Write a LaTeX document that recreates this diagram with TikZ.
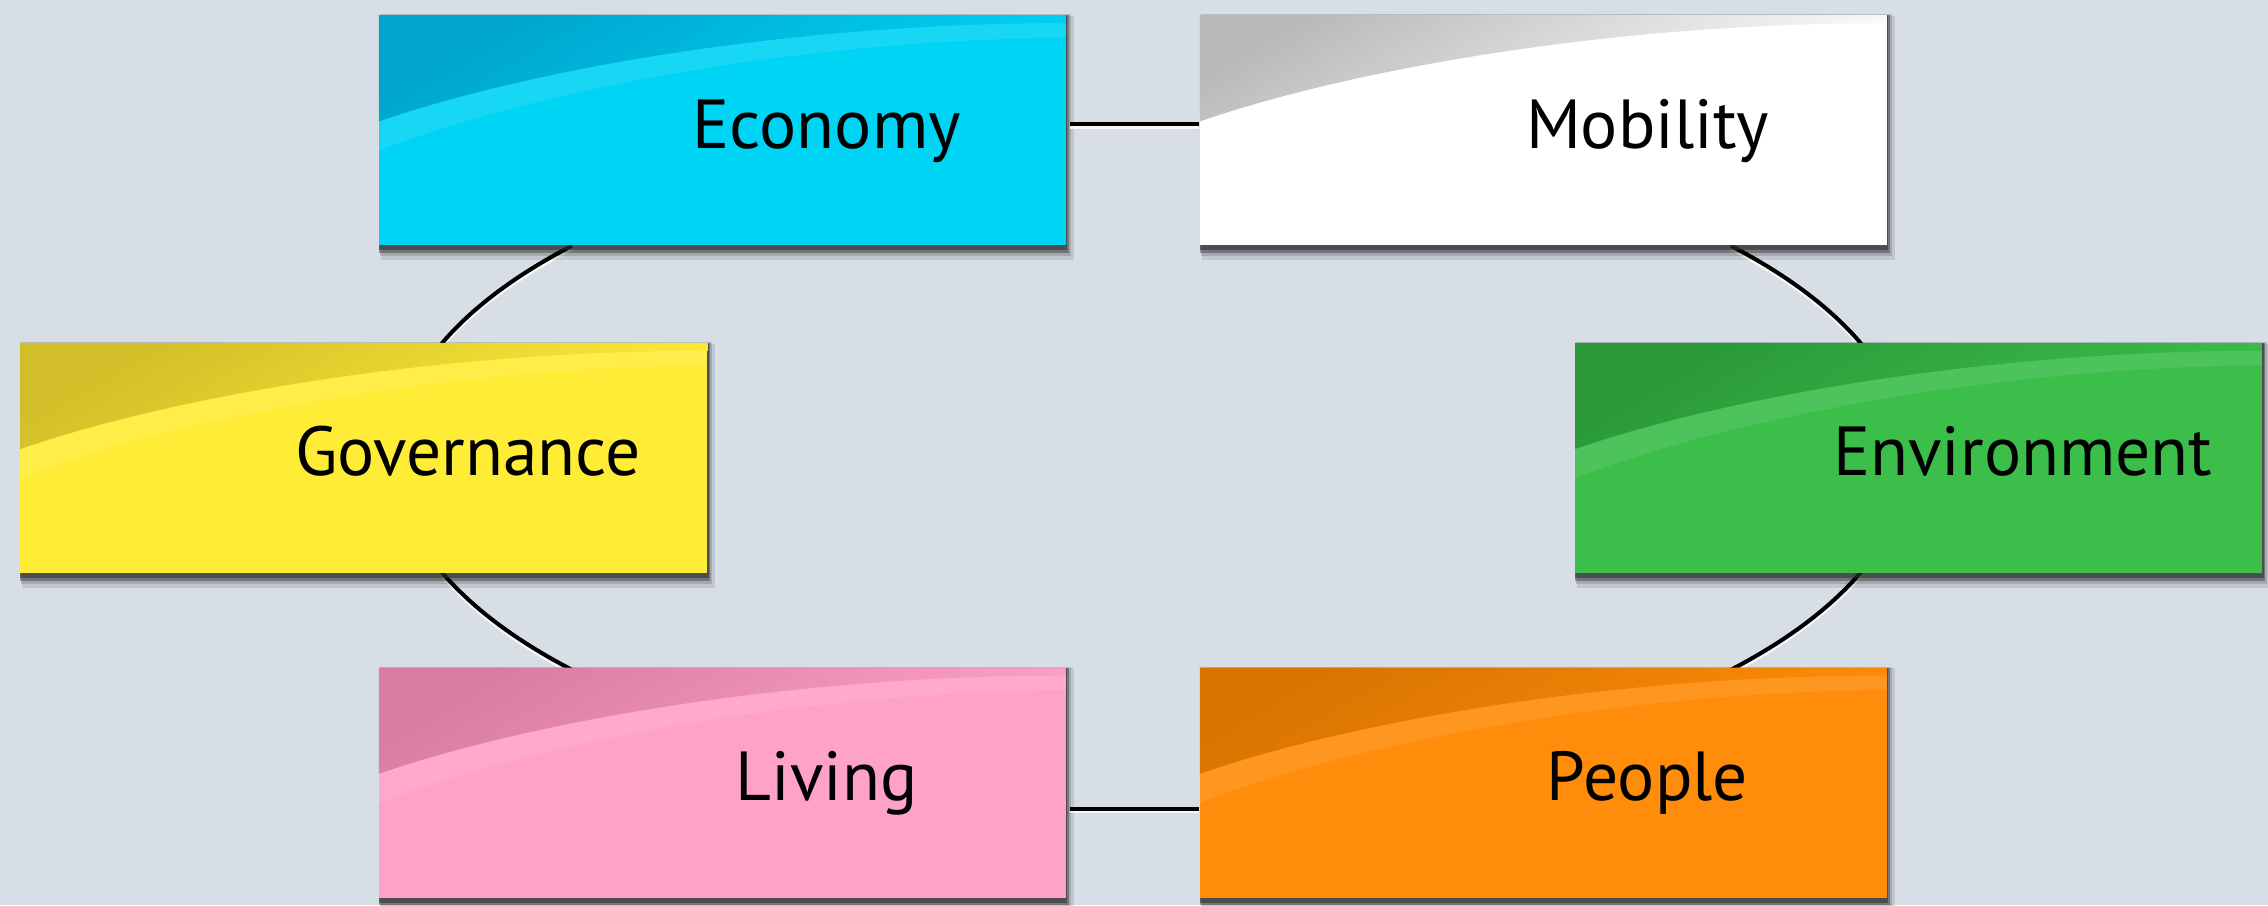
\documentclass[tikz,border=0pt]{standalone}
\usepackage{fontspec}
\setmainfont{PT Sans}
\usetikzlibrary{calc}
\definecolor{bgc}{RGB}{216,222,230}
\definecolor{ecoB}{RGB}{0,212,245}
\definecolor{ecoD}{RGB}{0,164,204}
\definecolor{mobB}{RGB}{255,255,255}
\definecolor{mobD}{RGB}{186,186,186}
\definecolor{govB}{RGB}{255,236,55}
\definecolor{govD}{RGB}{210,190,40}
\definecolor{envB}{RGB}{60,190,75}
\definecolor{envD}{RGB}{42,152,56}
\definecolor{livB}{RGB}{255,162,200}
\definecolor{livD}{RGB}{216,124,162}
\definecolor{peoB}{RGB}{255,140,10}
\definecolor{peoD}{RGB}{216,116,0}
\tikzset{
  boxst/.style={rectangle, inner sep=0pt, minimum width=237.5pt, minimum height=79.5pt, draw=none},
  lbl/.style={anchor=base, inner sep=0pt, font=\fontsize{24}{28}\selectfont, text=black},
  conn/.style={draw=black, line width=1.4pt},
  connhl/.style={draw=white, line width=1pt, opacity=0.8}
}
\newcommand\gbox[6]{%
\begin{scope}[shift={(#2,#3)}]
  \fill[black,opacity=0.10] (-236,-90) rectangle (243,79);
  \fill[black,opacity=0.15] (-237,-87) rectangle (241,80);
  \fill[black,opacity=0.30] (-237.5,-85) rectangle (239.5,79.5);
  \fill[black!80,opacity=0.6] (-237.5,-83) rectangle (238.5,79.5);
  \node[boxst, fill=#4] (#1) at (0,0) {};
  \begin{scope}
    \clip (-237.5,-79.5) rectangle (237.5,79.5);
    \shade[top color=#5, bottom color=#4, shading angle=30]
      (-237.5,79.5) -- (-237.5,6) .. controls (-140,40) and (40,74) .. (237.5,74) -- (237.5,79.5) -- cycle;
    \fill[white,opacity=0.09]
      (-237.5,6) .. controls (-140,40) and (40,74) .. (237.5,74) -- (237.5,64) .. controls (40,62) and (-140,24) .. (-237.5,-14) -- cycle;
  \end{scope}
\end{scope}
\node[lbl] (#1t) at ($(#1.center)+(72,-12.5)$) {#6};
}
\begin{document}
\begin{tikzpicture}[x=0.5pt,y=0.5pt]
\fill[bgc] (0,0) rectangle (1568,626);
\useasboundingbox (0,0) rectangle (1568,626);
\coordinate (ring) at (796,309.5);
% ring connectors (behind boxes)
\foreach \a/\b in {140/160,200/220,40/20,-20/-40}{
  \draw[connhl] ([yshift=-1.2pt]ring) ++(\a:261.5pt and 114pt) arc[start angle=\a, end angle=\b, x radius=261.5pt, y radius=114pt];
  \draw[conn] (ring) ++(\a:261.5pt and 114pt) arc[start angle=\a, end angle=\b, x radius=261.5pt, y radius=114pt];
}
\gbox{eco}{499.5}{536}{ecoB}{ecoD}{Economy}
\gbox{mob}{1067}{536}{mobB}{mobD}{Mobility}
\gbox{gov}{251.5}{309.5}{govB}{govD}{Governance}
\gbox{env}{1326.5}{309.5}{envB}{envD}{Environment}
\gbox{liv}{499.5}{85}{livB}{livD}{Living}
\gbox{peo}{1067}{85}{peoB}{peoD}{People}
% straight connectors
\draw[connhl] ([yshift=0.8pt,xshift=1pt]eco.east) -- ([yshift=0.8pt]mob.west);
\draw[conn] ([yshift=2pt,xshift=1pt]eco.east) -- ([yshift=2pt]mob.west);
\draw[connhl] ([yshift=-10.2pt,xshift=1pt]liv.east) -- ([yshift=-10.2pt]peo.west);
\draw[conn] ([yshift=-9pt,xshift=1pt]liv.east) -- ([yshift=-9pt]peo.west);
\end{tikzpicture}
\end{document}
